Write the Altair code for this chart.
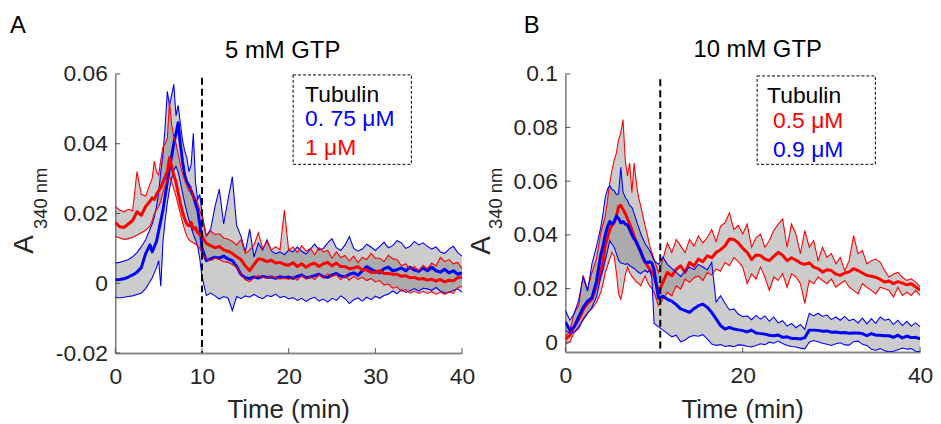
import altair as alt
import pandas as pd

FONT = "Liberation Sans"
INK = "#262626"
BLUE = "#0000ff"
RED = "#ff0000"

# sampling grid (min): 0.5 min steps, 0.25 min steps around the peak
TIME = [i / 2 for i in range(0, 9)] + [4 + i / 4 for i in range(1, 25)] + [10 + i / 2 for i in range(1, 61)]

# ---------------- Panel A (5 mM GTP), values in 1e-3 absorbance units ----------------
A_BLUE_MEAN = [1.0, 1.1, 1.3, 1.8, 2.4, 3.2, 4.5, 8.5, 11.0,
               9.0, 10.5, 12.0, 15.0, 18.0, 21.0, 25.0, 29.0, 33.0, 36.5, 40.0, 43.0,
               46.0, 40.0, 35.0, 31.0, 29.0, 28.0, 26.5, 25.0, 23.0, 21.0, 17.0, 10.0,
               6.5, 7.0, 7.5, 7.2, 7.8, 7.0, 6.5, 4.8, 2.5, 1.6,
               1.4, 1.8, 1.5, 2.0, 1.7, 1.8, 1.4, 1.9, 1.6, 1.8,
               1.4, 2.0, 2.4, 1.6, 1.8, 2.2, 2.6, 1.9, 1.7, 2.4,
               2.8, 2.1, 1.9, 2.6, 3.0, 2.3, 3.6, 4.8, 4.0, 3.4,
               3.0, 4.2, 4.6, 3.6, 3.9, 4.4, 3.6, 4.6, 3.8, 3.4,
               4.4, 3.6, 4.6, 3.6, 3.2, 4.0, 3.0, 3.6, 2.6, 3.0]
A_BLUE_UP = [5.8, 6.0, 6.4, 6.8, 7.6, 8.8, 10.5, 12.5, 15.5,
             17.0, 19.0, 22.0, 26.0, 32.0, 37.0, 45.0, 55.0, 51.0, 54.0, 57.0, 48.0,
             51.0, 46.0, 41.0, 38.0, 36.0, 32.0, 34.0, 43.0, 29.0, 24.0, 25.5, 20.0,
             13.6, 15.5, 22.0, 27.0, 17.0, 24.0, 30.5, 16.5, 13.5, 9.0,
             15.5, 7.5, 11.5, 9.5, 12.5, 9.3, 8.5, 9.0, 8.2, 9.5,
             9.0, 10.4, 9.2, 8.4, 9.8, 11.2, 9.6, 10.0, 11.6, 12.8,
             10.2, 9.4, 11.0, 13.4, 10.0, 9.2, 9.8, 11.2, 10.4, 9.4,
             10.6, 11.8, 10.2, 10.8, 12.2, 11.6, 10.0, 10.6, 12.0, 11.0,
             11.6, 10.6, 9.8, 10.4, 9.0, 8.6, 9.8, 10.6, 8.8, 7.8]
A_BLUE_LO = [-4.0, -4.2, -4.0, -3.8, -3.6, -3.2, -2.8, -1.5, 0.5,
             1.5, 3.0, 4.5, 6.5, -0.8, 12.0, 18.0, 23.0, 27.0, 30.0, 32.5, 33.5,
             32.0, 29.0, 26.0, 23.0, 20.5, 18.0, 16.0, 14.0, 12.5, 10.5, 7.0, 2.0,
             -3.5, -2.8, -3.6, -4.5, -3.8, -4.2, -7.8, -3.8, -4.4, -3.6,
             -4.0, -3.2, -3.9, -4.4, -3.5, -3.8, -3.1, -4.1, -3.7, -4.5,
             -4.1, -4.9, -4.3, -5.2, -4.4, -4.0, -5.1, -4.5, -5.4, -4.3,
             -4.9, -3.6, -4.4, -5.8, -4.7, -4.2, -5.1, -4.0, -4.7, -3.7,
             -4.3, -3.5, -3.1, -2.2, -3.0, -1.8, -2.6, -2.1, -1.5, -2.2,
             -1.4, -1.6, -2.0, -1.2, -2.2, -2.8, -2.6, -2.0, -1.6, -2.6]
A_RED_MEAN = [17.5, 16.2, 16.0, 17.0, 18.0, 20.5, 19.5, 22.0, 23.5,
              24.5, 24.0, 25.5, 26.5, 27.5, 29.0, 30.5, 32.0, 36.0, 33.5, 31.0, 29.0,
              26.0, 23.0, 20.5, 18.5, 17.0, 16.5, 17.5, 15.5, 16.0, 14.5, 14.0, 13.5,
              11.5, 10.8, 10.2, 10.6, 9.6, 9.2, 8.6, 7.6, 6.8, 5.0,
              3.6, 5.4, 7.0, 6.8, 6.2, 6.6, 5.8, 6.0, 5.4, 5.2,
              5.9, 4.8, 5.6, 4.6, 5.4, 5.8, 4.8, 5.6, 6.0, 5.0,
              5.8, 4.8, 4.8, 4.2, 4.4, 4.8, 3.8, 3.8, 3.2, 3.1,
              3.6, 2.8, 2.8, 2.6, 2.6, 2.0, 2.2, 1.6, 1.7, 1.2,
              1.4, 0.9, 1.2, 0.6, 1.1, 0.4, 0.9, 0.7, 1.6, 1.8]
A_RED_UP = [22.0, 21.0, 20.5, 21.2, 20.8, 32.0, 25.5, 25.0, 28.5,
            30.0, 35.0, 32.0, 31.0, 35.5, 39.0, 40.0, 41.5, 52.0, 45.5, 42.0, 40.0,
            37.0, 34.0, 31.5, 29.5, 28.0, 26.5, 27.5, 24.0, 24.5, 22.8, 21.0, 19.0,
            13.5, 15.0, 14.0, 14.2, 13.0, 12.7, 12.0, 11.0, 12.5, 8.5,
            9.5, 11.0, 14.5, 10.0, 12.0, 9.5, 10.5, 9.6, 21.0, 9.5,
            10.4, 8.8, 10.8, 9.2, 10.0, 8.2, 10.2, 9.0, 9.4, 7.2,
            9.0, 7.4, 8.0, 6.4, 7.8, 5.9, 7.4, 6.8, 8.6, 7.2,
            7.2, 6.2, 8.0, 7.0, 6.8, 5.0, 5.6, 4.0, 4.8, 3.6,
            5.2, 4.2, 5.8, 5.0, 7.4, 6.2, 6.8, 5.6, 6.0, 4.2]
A_RED_LO = [13.5, 13.0, 12.6, 12.8, 13.2, 13.8, 14.5, 15.2, 16.4,
            18.0, 20.0, 21.0, 22.0, 23.5, 26.0, 28.0, 29.5, 30.5, 29.0, 27.0, 25.0,
            22.5, 20.0, 17.5, 15.3, 13.5, 12.5, 12.0, 11.6, 11.2, 10.8, 10.0, 8.7,
            7.0, 6.5, 7.2, 6.8, 6.2, 6.0, 5.4, 4.6, 2.6, 1.0,
            0.5, 1.6, 2.2, 1.8, 1.4, 2.0, 1.6, 1.2, 1.5, 1.1,
            1.8, 0.9, 2.2, 1.2, 1.9, 1.0, 2.5, 1.5, 2.7, 2.0,
            2.4, 1.0, 2.2, 0.9, 2.0, 1.1, 1.7, 0.8, 1.4, 0.4,
            0.8, -0.5, -0.2, -1.4, -1.0, -2.3, -1.8, -2.8, -2.2, -2.9,
            -2.3, -2.9, -2.4, -3.1, -2.5, -3.2, -2.4, -2.9, -1.2, -0.9]

# ---------------- Panel B (10 mM GTP) ----------------
B_RED_MEAN = [1.0, 2.5, 6.0, 8.5, 12.0, 14.5, 16.0, 21.0, 26.0,
              30.0, 36.0, 39.0, 42.0, 43.5, 44.5, 47.0, 50.5, 51.0, 49.5, 48.0, 46.0,
              44.0, 42.0, 39.5, 37.0, 35.5, 33.5, 31.5, 29.7, 28.5, 27.2, 26.0, 24.7,
              18.6, 22.3, 26.0, 24.7, 27.2, 28.5, 26.0, 29.7, 28.4, 31.0,
              30.0, 32.2, 31.5, 33.4, 34.5, 35.9, 38.5, 38.3, 37.0, 35.0,
              33.5, 30.8, 32.5, 32.3, 31.0, 30.4, 32.0, 33.5, 32.4, 30.4,
              31.5, 30.6, 29.5, 29.0, 29.6, 28.0, 27.4, 26.1, 27.0, 26.7,
              25.4, 24.9, 25.8, 26.2, 27.4, 26.7, 25.8, 24.9, 24.6, 24.2,
              23.4, 22.4, 22.8, 21.8, 22.6, 22.0, 21.4, 21.8, 20.6, 19.4]
B_RED_UP = [2.0, 4.3, 11.0, 13.6, 25.0, 19.8, 26.0, 31.0, 40.8,
            44.0, 47.0, 53.0, 59.4, 64.0, 68.0, 70.5, 75.5, 78.0, 83.0, 68.0, 61.9,
            66.8, 55.7, 66.8, 59.4, 54.0, 50.7, 47.0, 43.3, 40.0, 35.9, 33.5, 31.0,
            26.0, 31.0, 37.0, 33.4, 38.3, 35.9, 33.4, 38.3, 35.8, 39.6,
            37.0, 39.0, 42.0, 37.5, 43.3, 44.5, 48.2, 42.0, 43.5, 40.3,
            44.0, 35.4, 39.0, 40.3, 35.4, 37.9, 41.6, 44.0, 45.9, 35.4,
            44.0, 40.3, 33.0, 41.6, 35.4, 37.9, 30.4, 35.4, 31.6, 33.0,
            29.2, 31.6, 26.7, 30.4, 39.7, 33.0, 34.1, 29.2, 30.4, 31.0,
            29.8, 26.7, 24.2, 25.4, 26.0, 24.2, 23.0, 23.6, 22.4, 20.5]
B_RED_LO = [-0.8, 0.0, 3.7, 5.0, 8.7, 11.0, 12.4, 14.8, 18.6,
            22.0, 26.0, 28.5, 31.0, 33.5, 32.0, 26.0, 18.0, 16.0, 20.0, 25.0, 28.0,
            26.0, 24.5, 23.5, 22.5, 22.0, 21.0, 23.0, 24.7, 22.5, 21.0, 20.0, 18.6,
            13.6, 16.0, 18.6, 17.3, 21.0, 19.8, 23.5, 22.3, 24.0, 24.7,
            23.0, 26.0, 25.0, 27.2, 26.5, 29.7, 28.5, 31.5, 30.0, 28.0,
            21.8, 25.5, 23.5, 28.0, 24.3, 19.3, 24.3, 23.0, 25.5, 20.5,
            25.5, 24.3, 21.8, 14.5, 23.0, 21.8, 24.3, 23.0, 21.8, 23.6,
            20.5, 21.8, 23.0, 20.5, 19.3, 18.0, 21.8, 20.5, 19.3, 18.0,
            20.5, 19.9, 19.3, 16.8, 20.5, 17.4, 18.6, 17.4, 19.3, 17.4]
B_BLUE_MEAN = [7.5, 4.5, 5.7, 9.4, 13.0, 15.3, 16.6, 22.7, 32.6,
               36.0, 40.0, 43.0, 45.0, 44.0, 45.0, 47.0, 46.1, 44.5, 45.0, 44.0, 43.7,
               42.0, 40.0, 38.5, 37.5, 35.5, 33.8, 31.5, 30.1, 29.5, 30.0, 29.5, 27.0,
               16.5, 17.1, 16.0, 15.3, 14.0, 12.4, 11.8, 11.1, 12.5, 13.6,
               14.2, 13.0, 11.1, 8.7, 6.2, 4.9, 5.5, 4.9, 4.6, 4.3,
               3.8, 4.5, 3.4, 3.2, 3.0, 2.6, 2.4, 2.7, 1.8, 2.0,
               1.4, 1.4, 1.2, 1.7, 4.5, 4.5, 4.4, 4.1, 4.2, 3.7,
               3.8, 3.5, 3.6, 3.3, 3.4, 3.4, 3.2, 2.4, 3.2, 2.6,
               2.6, 2.4, 2.4, 1.8, 2.6, 1.6, 2.3, 1.7, 1.8, 1.3]
B_BLUE_UP = [11.9, 8.2, 10.7, 15.6, 24.3, 19.0, 29.3, 35.5, 43.0,
             48.0, 54.0, 57.0, 58.4, 57.0, 56.5, 55.0, 55.3, 65.2, 56.0, 54.0, 52.8,
             51.0, 50.3, 48.0, 45.4, 43.0, 40.4, 38.5, 36.7, 35.5, 34.2, 32.5, 30.5,
             29.0, 31.7, 29.0, 27.5, 26.0, 24.5, 26.5, 28.0, 27.0, 29.0,
             28.0, 27.0, 29.7, 15.0, 17.3, 14.5, 12.0, 12.4, 10.5, 9.5,
             9.8, 8.4, 10.0, 8.6, 9.8, 7.8, 9.4, 7.2, 8.0, 6.0,
             7.0, 5.4, 6.6, 4.8, 10.8, 9.8, 10.8, 9.6, 10.2, 8.4,
             9.4, 8.2, 9.6, 8.0, 8.6, 7.2, 9.0, 6.8, 8.8, 7.0,
             9.4, 8.2, 8.6, 6.6, 8.2, 6.2, 7.8, 6.0, 7.2, 5.8]
B_BLUE_LO = [4.5, 3.3, 3.8, 5.7, 8.2, 10.7, 13.1, 16.8, 24.3,
             27.0, 30.5, 34.0, 37.9, 36.5, 35.4, 33.0, 30.5, 29.5, 29.3, 29.0, 29.3,
             28.5, 28.0, 27.5, 26.8, 26.0, 25.6, 26.2, 26.8, 26.0, 26.8, 24.0, 7.0,
             5.7, 4.5, 3.3, 2.0, 2.6, 0.1, 0.8, 2.0, 2.5, 2.2,
             2.8, 1.2, -0.7, -1.2, -0.9, -1.6, -1.3, -1.7, -1.0, -1.1,
             -1.5, -1.8, -1.2, -0.6, -0.9, 0.0, -0.4, 0.4, -0.5, -1.2,
             -1.6, -1.8, -2.2, -2.5, 0.0, 0.6, 0.2, -0.4, -0.8, -1.2,
             -0.6, -0.2, -1.0, -1.1, 0.2, 0.4, -0.8, -1.2, -2.6, -3.0,
             -2.4, -3.2, -3.6, -3.4, -2.8, -2.2, -2.6, -2.4, -3.4, -3.6]

A_X_TICKS = [0, 10, 20, 30, 40]
A_Y_TICKS = [-0.02, 0, 0.02, 0.04, 0.06]
B_X_TICKS = [0, 20, 40]
B_Y_TICKS = [0, 0.02, 0.04, 0.06, 0.08, 0.1]
X_DOMAIN = [0, 40]
A_Y_DOMAIN = [-0.02, 0.06]
B_Y_DOMAIN = [-0.0037, 0.1]
A_DASH = {"t": [10], "top": [0.0589]}
B_DASH = {"t": [10.7], "top": [0.098]}

A_SERIES = [("0.75", BLUE, A_BLUE_MEAN, A_BLUE_UP, A_BLUE_LO),
            ("1", RED, A_RED_MEAN, A_RED_UP, A_RED_LO)]
B_SERIES = [("0.5", RED, B_RED_MEAN, B_RED_UP, B_RED_LO),
            ("0.9", BLUE, B_BLUE_MEAN, B_BLUE_UP, B_BLUE_LO)]


def txt(s, x, y, size, color="black", align="left", angle=0):
    return alt.Chart(alt.Data(values=[{"s": s}])).mark_text(
        align=align, baseline="alphabetic", font=FONT, fontSize=size,
        color=color, angle=angle
    ).encode(text="s:N", x=alt.value(x), y=alt.value(y))


def panel(series, ydom, xt, yt, W, H, dash, texts, box):
    xs = alt.Scale(domain=X_DOMAIN, nice=False, zero=False)
    ys = alt.Scale(domain=ydom, nice=False, zero=False)
    xax = alt.Axis(values=xt, ticks=False, tickSize=0, grid=False, title=None,
                   labelFont=FONT, labelFontSize=23, labelColor=INK, labelPadding=13,
                   labelFlush=False, labelOverlap=False, labelAngle=0, labelBound=False,
                   domainColor="#8a8a8a", domainWidth=2,
                   labelExpr="toString(datum.value)")
    yax = alt.Axis(values=yt, ticks=False, tickSize=0, grid=False, title=None,
                   labelFont=FONT, labelFontSize=23, labelColor=INK, labelPadding=8,
                   labelFlush=False, labelOverlap=False, labelBound=False,
                   domainColor="#555555", domainWidth=1.2,
                   labelExpr="toString(datum.value)")

    def X(f):
        return alt.X(f, scale=xs, axis=xax)

    def Y(f):
        return alt.Y(f, scale=ys, axis=yax)

    layers = []
    for name, color, mean, up, lo in series:
        band = pd.DataFrame({"t": TIME, "lo": [v / 1000 for v in lo], "hi": [v / 1000 for v in up]})
        layers.append(alt.Chart(band).mark_area(color="#6d6d6d", opacity=0.35, clip=True)
                      .encode(x=X("t:Q"), y=Y("lo:Q"), y2="hi:Q"))
    for name, color, mean, up, lo in series:
        thin = pd.DataFrame({"t": TIME * 2,
                             "v": [v / 1000 for v in up] + [v / 1000 for v in lo],
                             "kind": ["upper"] * len(TIME) + ["lower"] * len(TIME)})
        layers.append(alt.Chart(thin).mark_line(color=color, strokeWidth=1.1, clip=True)
                      .encode(x=X("t:Q"), y=Y("v:Q"), detail="kind:N"))
        thick = pd.DataFrame({"t": TIME, "v": [v / 1000 for v in mean]})
        layers.append(alt.Chart(thick).mark_line(color=color, strokeWidth=3, strokeJoin="round", clip=True)
                      .encode(x=X("t:Q"), y=Y("v:Q")))
    layers.append(alt.Chart(pd.DataFrame(dash)).mark_rule(color="black", strokeWidth=2, strokeDash=[7, 4])
                  .encode(x=X("t:Q"), y=Y("top:Q"), y2=alt.value(H)))
    # inward ticks
    layers.append(alt.Chart(pd.DataFrame({"t": xt})).mark_rule(color="#555555", strokeWidth=1)
                  .encode(x=X("t:Q"), y=alt.value(H), y2=alt.value(H - 5)))
    layers.append(alt.Chart(pd.DataFrame({"v": yt})).mark_rule(color="#555555", strokeWidth=1)
                  .encode(y=Y("v:Q"), x=alt.value(0), x2=alt.value(5)))
    # legend box
    bx0, bx1, by0, by1 = box
    layers.append(alt.Chart(alt.Data(values=[{"k": 1}])).mark_rect(
        fill="white", stroke="black", strokeWidth=1, strokeDash=[3, 2])
        .encode(x=alt.value(bx0), x2=alt.value(bx1), y=alt.value(by0), y2=alt.value(by1)))
    for t in texts:
        layers.append(txt(*t))
    return alt.layer(*layers).properties(width=W, height=H)


WA, HA = 349, 281
WB, HB = 357, 280

A_TEXTS = [
    ("A", -106, -41, 24),
    ("5 mM GTP", 168.5, -16, 24, "black", "center"),
    ("Tubulin", 191, 28, 23),
    ("0. 75 μM", 191, 52, 23, BLUE),
    ("1 μM", 191, 82, 23, RED),
    ("Time (min)", WA / 2, HA + 65, 26, INK, "center"),
    ("A", -83, 181, 28, INK, "left", 270),
    ("340 nm", -69, 156, 18.5, INK, "left", 270),
]
B_TEXTS = [
    ("B", -42, -41, 24),
    ("10 mM GTP", 193.5, -17, 24, "black", "center"),
    ("Tubulin", 203, 29.5, 23),
    ("0.5 μM", 209, 54.5, 23, RED),
    ("0.9 μM", 209, 83.5, 23, BLUE),
    ("Time (min)", WB / 2, HB + 66, 26, INK, "center"),
    ("A", -76, 182, 28, INK, "left", 270),
    ("340 nm", -64, 156, 18.5, INK, "left", 270),
]

pa = panel(A_SERIES, A_Y_DOMAIN, A_X_TICKS, A_Y_TICKS, WA, HA, A_DASH, A_TEXTS, (179, 298, 1, 91))
pb = panel(B_SERIES, B_Y_DOMAIN, B_X_TICKS, B_Y_TICKS, WB, HB, B_DASH, B_TEXTS, (193, 312, 2, 91))

chart = alt.hconcat(pa, pb, spacing=104, bounds="flush").properties(
    padding={"left": 2, "top": 5, "right": 0, "bottom": 0},
    background="white",
).configure_view(strokeWidth=0)

chart.save("out.html", embed_options={"renderer": "svg", "actions": False})
